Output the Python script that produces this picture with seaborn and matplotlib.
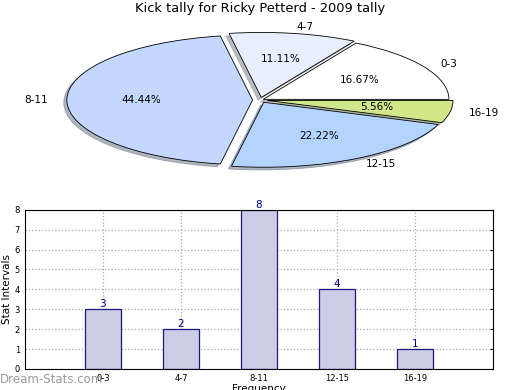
import pandas as pd
import matplotlib
matplotlib.use("Agg")
import matplotlib.pyplot as plt
import seaborn as sns

# Data
intervals = ["0-3", "4-7", "8-11", "12-15", "16-19"]
counts = [3, 2, 8, 4, 1]
pie_colors = ["#ffffff", "#e8f0ff", "#c4d8ff", "#b3d4ff", "#d0e88a"]
explode = [0.02, 0.04, 0.04, 0.04, 0.04]

sns.set_style("white")
plt.rcParams['font.family'] = ['DejaVu Sans']
plt.rcParams['text.color'] = 'black'
plt.rcParams['axes.labelcolor'] = 'black'
plt.rcParams['xtick.color'] = 'black'
plt.rcParams['ytick.color'] = 'black'

fig = plt.figure(figsize=(5.2, 3.9), dpi=100)

# Pie (squashed into an ellipse)
ax_pie = fig.add_axes([0.05, 0.5436, 0.9, 0.4])
wedges, texts, autotexts = ax_pie.pie(
    counts, labels=intervals, colors=pie_colors, explode=explode,
    startangle=0, counterclock=True,
    shadow={'ox': -0.012, 'oy': -0.03, 'shade': 0.5},
    autopct='%1.2f%%', pctdistance=0.6, labeldistance=1.1,
    wedgeprops={'edgecolor': 'black', 'linewidth': 0.6},
    textprops={'fontsize': 7.5})
ax_pie.set_aspect('auto')
ax_pie.set_xlim(-1.26, 1.26)
ax_pie.set_ylim(-1.2, 1.2)
ax_pie.axis('off')
fig.text(0.5, 0.995, "Kick tally for Ricky Petterd - 2009 tally",
         ha='center', va='top', fontsize=9.4)

# Bar chart
ax_bar = fig.add_axes([0.048, 0.054, 0.9, 0.408])
df = pd.DataFrame({'interval': intervals, 'count': counts})
sns.barplot(data=df, x='interval', y='count', order=intervals, ax=ax_bar,
            color="#ccccE6", edgecolor="#1a1a80", linewidth=0.9,
            width=0.46, saturation=1)
for i, v in enumerate(counts):
    ax_bar.text(i, v, str(v), ha='center', va='bottom', color="#000080",
                fontsize=7.5)
ax_bar.set_xlim(-1, 5)
ax_bar.set_ylim(0, 8)
ax_bar.set_yticks(range(0, 9))
ax_bar.grid(True, linestyle=':', color='#aaaaaa', linewidth=0.9)
ax_bar.set_axisbelow(True)
ax_bar.tick_params(axis='both', labelsize=6, direction='in', length=2,
                   right=True)
for s in ax_bar.spines.values():
    s.set_color('black')
    s.set_linewidth(0.8)
ax_bar.set_ylabel("Stat Intervals", fontsize=7.5, labelpad=2)
ax_bar.set_xlabel("Frequency", fontsize=7.5, labelpad=1)

fig.text(0.0, 0.01, "Dream-Stats.com", color='#999999', fontsize=8.5,
         ha='left', va='bottom')

fig.savefig("out.png", dpi=100)
